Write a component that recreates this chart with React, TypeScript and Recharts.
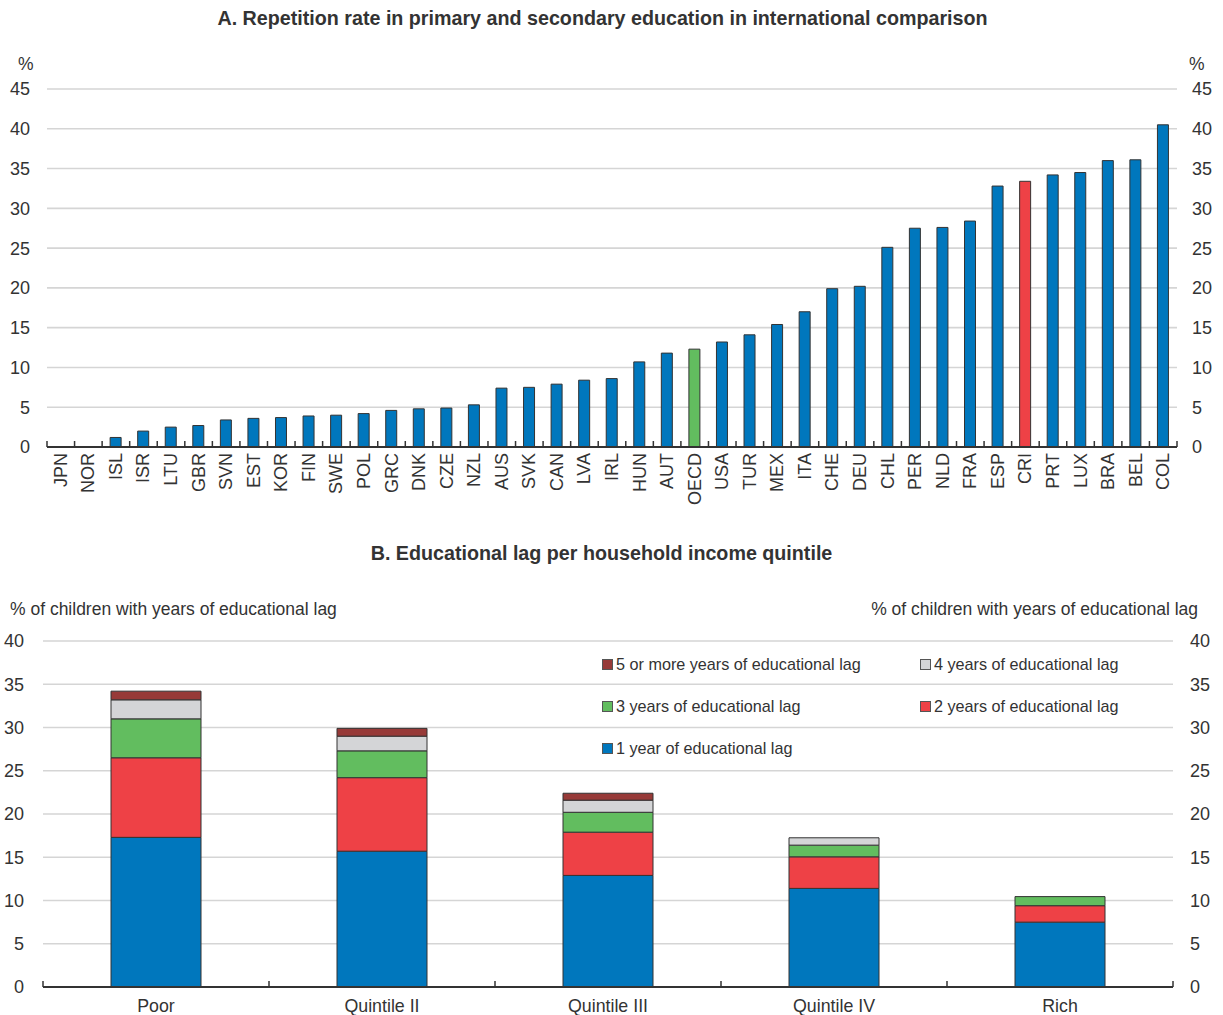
import React from 'react';
import { BarChart, Bar, XAxis, YAxis, CartesianGrid, Cell, Legend } from 'recharts';

// ---------- Data: Panel A ----------
const countries = ['JPN','NOR','ISL','ISR','LTU','GBR','SVN','EST','KOR','FIN','SWE','POL','GRC','DNK','CZE','NZL','AUS','SVK','CAN','LVA','IRL','HUN','AUT','OECD','USA','TUR','MEX','ITA','CHE','DEU','CHL','PER','NLD','FRA','ESP','CRI','PRT','LUX','BRA','BEL','COL'];
const repetitionRate = [0,0,1.2,2.0,2.5,2.7,3.4,3.6,3.7,3.9,4.0,4.2,4.6,4.8,4.9,5.3,7.4,7.5,7.9,8.4,8.6,10.7,11.8,12.3,13.2,14.1,15.4,17.0,19.9,20.2,25.1,27.5,27.6,28.4,32.8,33.4,34.2,34.5,36.0,36.1,40.5];
const yTicksA = [0,5,10,15,20,25,30,35,40,45];

// ---------- Data: Panel B ----------
const groups = ['Poor','Quintile II','Quintile III','Quintile IV','Rich'];
const lag1 = [17.3, 15.7, 12.9, 11.4, 7.5];
const lag2 = [9.2, 8.5, 5.0, 3.65, 1.9];
const lag3 = [4.5, 3.1, 2.3, 1.35, 1.05];
const lag4 = [2.2, 1.7, 1.4, 0.85, 0];
const lag5 = [1.0, 0.9, 0.8, 0, 0];
const yTicksB = [0,5,10,15,20,25,30,35,40];
const seriesNames = {
  lag1: '1 year of educational lag',
  lag2: '2 years of educational lag',
  lag3: '3 years of educational lag',
  lag4: '4 years of educational lag',
  lag5: '5 or more years of educational lag',
};

// ---------- Styles ----------
const FONT = '"Liberation Sans", Arial, sans-serif';
const TEXT = '#333333';
const BLUE = '#0077BD';
const RED = '#EE4146';
const GREEN = '#62BD5F';
const GREY = '#D4D5D7';
const DARKRED = '#973A38';
const GRID = '#D5D5D5';
const AXIS = '#333333';
const BAR_STROKE = '#333333';
const highlight: Record<string, string> = { OECD: GREEN, CRI: RED };

const W = 1223;
// Panel A layout
const A_LEFT = 47;
const A_RIGHT = 46;
const A_BAND = (W - A_LEFT - A_RIGHT) / countries.length;
// Panel B layout
const B_LEFT = 43;
const B_RIGHT = 50;
const B_BAND = (W - B_LEFT - B_RIGHT) / groups.length;
const B_TICK_MARGIN = 12;

const dataA = countries.map((c, i) => ({ country: c, value: repetitionRate[i] }));
const dataB = groups.map((g, i) => ({ group: g, lag1: lag1[i], lag2: lag2[i], lag3: lag3[i], lag4: lag4[i], lag5: lag5[i] }));

const CountryTick = (props: any) => {
  const { x, y, payload, index } = props;
  const axisY = y - 6;
  const half = A_BAND / 2;
  return (
    <g>
      <line x1={x - half} x2={x - half} y1={axisY} y2={axisY - 6} stroke={AXIS} strokeWidth={1.5} />
      {index === countries.length - 1 && (
        <line x1={x + half} x2={x + half} y1={axisY} y2={axisY - 6} stroke={AXIS} strokeWidth={1.5} />
      )}
      <text
        x={x}
        y={y}
        transform={`rotate(-90, ${x}, ${y})`}
        textAnchor="end"
        dominantBaseline="central"
        fontSize={18}
        fill={TEXT}
        fontFamily={FONT}
      >
        {payload.value}
      </text>
    </g>
  );
};

const GroupTick = (props: any) => {
  const { x, y, payload, index } = props;
  const axisY = y - B_TICK_MARGIN;
  const half = B_BAND / 2;
  return (
    <g>
      <line x1={x - half} x2={x - half} y1={axisY} y2={axisY - 6} stroke={AXIS} strokeWidth={1.5} />
      {index === groups.length - 1 && (
        <line x1={x + half} x2={x + half} y1={axisY} y2={axisY - 6} stroke={AXIS} strokeWidth={1.5} />
      )}
      <text x={x} y={y} textAnchor="middle" dominantBaseline="hanging" fontSize={17.8} fill={TEXT} fontFamily={FONT}>
        {payload.value}
      </text>
    </g>
  );
};

const legendRows = [
  [{ name: seriesNames.lag5, color: DARKRED }, { name: seriesNames.lag4, color: GREY }],
  [{ name: seriesNames.lag3, color: GREEN }, { name: seriesNames.lag2, color: RED }],
  [{ name: seriesNames.lag1, color: BLUE }],
];

const LegendContent = () => (
  <div style={{ fontFamily: FONT, fontSize: 16.2, color: TEXT }}>
    {legendRows.map((row, r) => (
      <div key={r} style={{ display: 'flex', height: 42, alignItems: 'center' }}>
        {row.map((item, k) => (
          <div key={k} style={{ width: 318, display: 'flex', alignItems: 'center', whiteSpace: 'nowrap' }}>
            <span style={{ display: 'inline-block', width: 11, height: 11, background: item.color, border: '1px solid #555', marginRight: 3, boxSizing: 'border-box' }} />
            <span>{item.name}</span>
          </div>
        ))}
      </div>
    ))}
  </div>
);

const yTickStyle = { fontSize: 18, fill: TEXT, fontFamily: FONT };

export default function App() {
  return (
    <div style={{ position: 'absolute', left: 0, top: 0, width: W, height: 1015, background: '#fff', fontFamily: FONT, color: TEXT }}>
      {/* Panel A */}
      <div style={{ position: 'absolute', top: 7, left: -9, width: W, textAlign: 'center', fontWeight: 'bold', fontSize: 19.7 }}>
        A. Repetition rate in primary and secondary education in international comparison
      </div>
      <div style={{ position: 'absolute', top: 54, left: 18, fontSize: 17.5 }}>%</div>
      <div style={{ position: 'absolute', top: 54, left: 1189, fontSize: 17.5 }}>%</div>
      <div style={{ position: 'absolute', top: 0, left: 0 }}>
        <BarChart width={W} height={527} data={dataA} margin={{ top: 89, right: 0, bottom: 0, left: 0 }}>
          <CartesianGrid yAxisId="left" vertical={false} stroke={GRID} strokeWidth={1.6} />
          <XAxis
            dataKey="country"
            height={80}
            interval={0}
            tickLine={false}
            tickSize={0}
            tickMargin={6}
            axisLine={{ stroke: AXIS, strokeWidth: 2 }}
            tick={<CountryTick />}
          />
          <YAxis yAxisId="left" width={A_LEFT} domain={[0, 45]} ticks={yTicksA} axisLine={false} tickLine={false} tickSize={0} tickMargin={17} tick={yTickStyle} interval={0} />
          <YAxis yAxisId="right" orientation="right" width={A_RIGHT} domain={[0, 45]} allowDataOverflow ticks={yTicksA} axisLine={false} tickLine={false} tickSize={0} tickMargin={15} tick={{ ...yTickStyle, textAnchor: 'start' }} interval={0} />
          <Bar dataKey="value" yAxisId="left" barSize={11} fill={BLUE} stroke={BAR_STROKE} strokeWidth={1} isAnimationActive={false}>
            {dataA.map((d) => (
              <Cell key={d.country} fill={highlight[d.country] || BLUE} />
            ))}
          </Bar>
        </BarChart>
      </div>

      {/* Panel B */}
      <div style={{ position: 'absolute', top: 542, left: -10, width: W, textAlign: 'center', fontWeight: 'bold', fontSize: 19.7 }}>
        B. Educational lag per household income quintile
      </div>
      <div style={{ position: 'absolute', top: 599, left: 10, fontSize: 17.5, whiteSpace: 'nowrap' }}>% of children with years of educational lag</div>
      <div style={{ position: 'absolute', top: 599, right: W - 1198, fontSize: 17.5, whiteSpace: 'nowrap' }}>% of children with years of educational lag</div>
      <div style={{ position: 'absolute', top: 520, left: 0 }}>
        <BarChart width={W} height={495} data={dataB} margin={{ top: 121, right: 0, bottom: 0, left: 0 }}>
          <CartesianGrid yAxisId="left" vertical={false} stroke={GRID} strokeWidth={1.6} />
          <XAxis
            dataKey="group"
            height={28}
            interval={0}
            tickLine={false}
            tickSize={0}
            tickMargin={B_TICK_MARGIN}
            axisLine={{ stroke: AXIS, strokeWidth: 2 }}
            tick={<GroupTick />}
          />
          <YAxis yAxisId="left" width={B_LEFT} domain={[0, 40]} ticks={yTicksB} axisLine={false} tickLine={false} tickSize={0} tickMargin={19} tick={yTickStyle} interval={0} />
          <YAxis yAxisId="right" orientation="right" width={B_RIGHT} domain={[0, 40]} allowDataOverflow ticks={yTicksB} axisLine={false} tickLine={false} tickSize={0} tickMargin={17} tick={{ ...yTickStyle, textAnchor: 'start' }} interval={0} />
          <Legend
            layout="vertical"
            align="center"
            verticalAlign="middle"
            content={<LegendContent />}
            wrapperStyle={{ top: 123, left: 602, width: 640, height: 126 }}
          />
          <Bar dataKey="lag1" name={seriesNames.lag1} yAxisId="left" stackId="s" barSize={90} fill={BLUE} stroke={BAR_STROKE} strokeWidth={1} isAnimationActive={false} />
          <Bar dataKey="lag2" name={seriesNames.lag2} yAxisId="left" stackId="s" barSize={90} fill={RED} stroke={BAR_STROKE} strokeWidth={1} isAnimationActive={false} />
          <Bar dataKey="lag3" name={seriesNames.lag3} yAxisId="left" stackId="s" barSize={90} fill={GREEN} stroke={BAR_STROKE} strokeWidth={1} isAnimationActive={false} />
          <Bar dataKey="lag4" name={seriesNames.lag4} yAxisId="left" stackId="s" barSize={90} fill={GREY} stroke={BAR_STROKE} strokeWidth={1} isAnimationActive={false} />
          <Bar dataKey="lag5" name={seriesNames.lag5} yAxisId="left" stackId="s" barSize={90} fill={DARKRED} stroke={BAR_STROKE} strokeWidth={1} isAnimationActive={false} />
        </BarChart>
      </div>
    </div>
  );
}
